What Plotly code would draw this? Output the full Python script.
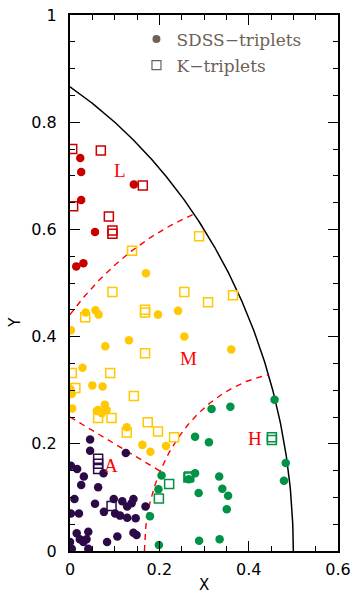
import numpy as np
import plotly.graph_objects as go

# ---------------- data ----------------
# L region (red)
L_sdss_x = [0.023, 0.025, 0.143, 0.025, 0.056, 0.014, 0.030]
L_sdss_y = [0.733, 0.707, 0.684, 0.655, 0.595, 0.531, 0.537]
L_k_x = [0.005, 0.069, 0.163, 0.087, 0.095, 0.095, 0.007]
L_k_y = [0.750, 0.747, 0.682, 0.624, 0.598, 0.592, 0.643]

# M region (yellow)
M_sdss_x = [0.170, 0.197, 0.035, 0.057, 0.064, 0.002, 0.132, 0.079, 0.028, 0.050,
            0.073, 0.001, 0.004, 0.005, 0.063, 0.078, 0.071, 0.082, 0.060, 0.127,
            0.162, 0.180, 0.215, 0.242, 0.256, 0.361]
M_sdss_y = [0.518, 0.441, 0.445, 0.449, 0.441, 0.412, 0.393, 0.382, 0.342, 0.309,
            0.307, 0.302, 0.293, 0.266, 0.263, 0.273, 0.257, 0.263, 0.261, 0.231,
            0.198, 0.185, 0.196, 0.448, 0.400, 0.376]
M_k_x = [0.139, 0.095, 0.168, 0.168, 0.034, 0.168, 0.090, 0.004, 0.012, 0.143,
         0.063, 0.093, 0.127, 0.174, 0.197, 0.233, 0.256, 0.365, 0.309, 0.289]
M_k_y = [0.560, 0.483, 0.450, 0.445, 0.436, 0.369, 0.332, 0.332, 0.304, 0.289,
         0.248, 0.248, 0.221, 0.240, 0.223, 0.212, 0.483, 0.477, 0.464, 0.587]

# A region (dark purple)
A_sdss_x = [0.045, 0.045, 0.125, 0.002, 0.016, 0.031, 0.075, 0.025, 0.063, 0.010,
            0.056, 0.098, 0.117, 0.142, 0.138, 0.128, 0.169, 0.002, 0.020, 0.076,
            0.101, 0.112, 0.128, 0.147, 0.015, 0.022, 0.041, 0.037, 0.030, 0.000,
            0.004, 0.041, 0.083, 0.106, 0.142, 0.149]
A_sdss_y = [0.208, 0.187, 0.183, 0.159, 0.153, 0.139, 0.145, 0.123, 0.119, 0.097,
            0.088, 0.097, 0.093, 0.097, 0.089, 0.083, 0.083, 0.070, 0.070, 0.073,
            0.070, 0.066, 0.062, 0.061, 0.033, 0.022, 0.036, 0.022, 0.017, 0.017,
            0.004, 0.004, 0.017, 0.027, 0.034, 0.030]
A_k_x = [0.063, 0.063, 0.063, 0.093]
A_k_y = [0.172, 0.163, 0.153, 0.084]

# H region (green)
H_sdss_x = [0.458, 0.359, 0.317, 0.280, 0.311, 0.483, 0.479, 0.280, 0.266, 0.334,
            0.341, 0.354, 0.351, 0.288, 0.205, 0.198, 0.179, 0.199, 0.289, 0.335]
H_sdss_y = [0.282, 0.269, 0.265, 0.213, 0.203, 0.164, 0.131, 0.145, 0.134, 0.139,
            0.116, 0.103, 0.078, 0.108, 0.141, 0.115, 0.065, 0.011, 0.019, 0.022]
H_k_x = [0.452, 0.452, 0.267, 0.265, 0.222, 0.199]
H_k_y = [0.212, 0.207, 0.139, 0.137, 0.125, 0.098]

# region labels
region_names = ["L", "M", "A", "H"]
region_lab_x = [0.113, 0.266, 0.092, 0.415]
region_lab_y = [0.709, 0.360, 0.159, 0.210]

# axis ticks
x_tick_vals = [0, 0.2, 0.4, 0.6]
x_tick_text = ["0", "0.2", "0.4", "0.6"]
y_tick_vals = [0, 0.2, 0.4, 0.6, 0.8, 1.0]
y_tick_text = ["0", "0.2", "0.4", "0.6", "0.8", "1"]

# boundary geometry (Agekian-Anosova map)
outer_center, outer_radius = (-0.5, 0.0), 1.0
L_center, L_radius = (0.5, 0.0), 2.0 / 3.0
H_center, H_radius = (0.5, 0.0), 1.0 / 3.0
A_line_intercept, A_line_slope = 0.25, -0.5

COL_L = "#c80000"
COL_M = "#ffc800"
COL_A = "#2b0a47"
COL_H = "#009245"
COL_LEG = "#6e6158"

fig = go.Figure()

# ---------------- boundary curves ----------------
xo = np.linspace(0, 0.5, 400)
yo = np.sqrt(np.clip(outer_radius**2 - (xo - outer_center[0])**2, 0, None))
fig.add_trace(go.Scatter(x=xo, y=yo, mode="lines", line=dict(color="black", width=1.5),
                         showlegend=False, hoverinfo="skip"))

xL_end = (outer_radius**2 - L_radius**2) / 2.0
xl = np.linspace(0, xL_end, 200)
yl = np.sqrt(L_radius**2 - (xl - L_center[0])**2)
fig.add_trace(go.Scatter(x=xl, y=yl, mode="lines",
                         line=dict(color="#ff0000", width=1.4, dash="6px,5px"),
                         showlegend=False, hoverinfo="skip"))

xH_start = H_center[0] - H_radius
xH_end = (outer_radius**2 - H_radius**2) / 2.0
xh = np.linspace(xH_start, xH_end, 300)
yh = np.sqrt(np.clip(H_radius**2 - (xh - H_center[0])**2, 0, None))
fig.add_trace(go.Scatter(x=xh, y=yh, mode="lines",
                         line=dict(color="#ff0000", width=1.4, dash="6px,5px"),
                         showlegend=False, hoverinfo="skip"))

a = 1 + A_line_slope**2
b = -2 * H_center[0] + 2 * A_line_slope * A_line_intercept
c = H_center[0]**2 + A_line_intercept**2 - H_radius**2
xA_end = (-b - np.sqrt(b * b - 4 * a * c)) / (2 * a)
xa = np.linspace(0, xA_end, 50)
ya = A_line_intercept + A_line_slope * xa
fig.add_trace(go.Scatter(x=xa, y=ya, mode="lines",
                         line=dict(color="#ff0000", width=1.4, dash="6px,5px"),
                         showlegend=False, hoverinfo="skip"))

# ---------------- points ----------------
def add_pts(xs, ys, col, kind):
    if kind == "sdss":
        fig.add_trace(go.Scatter(x=xs, y=ys, mode="markers", showlegend=False,
                                 marker=dict(symbol="circle", size=8.5, color=col,
                                             line=dict(width=0))))
    else:
        fig.add_trace(go.Scatter(x=xs, y=ys, mode="markers", showlegend=False,
                                 marker=dict(symbol="square-open", size=9, color=col,
                                             line=dict(width=1.5, color=col))))

add_pts(L_sdss_x, L_sdss_y, COL_L, "sdss")
add_pts(L_k_x, L_k_y, COL_L, "k")
add_pts(M_sdss_x, M_sdss_y, COL_M, "sdss")
add_pts(M_k_x, M_k_y, COL_M, "k")
add_pts(A_sdss_x, A_sdss_y, COL_A, "sdss")
add_pts(A_k_x, A_k_y, COL_A, "k")
add_pts(H_sdss_x, H_sdss_y, COL_H, "sdss")
add_pts(H_k_x, H_k_y, COL_H, "k")

# legend entries
fig.add_trace(go.Scatter(x=[None], y=[None], mode="markers", name="SDSS\u2212triplets",
                         legendgroup="g1",
                         marker=dict(symbol="circle", size=8, color=COL_LEG)))
fig.add_trace(go.Scatter(x=[None], y=[None], mode="markers", name="K\u2212triplets",
                         legendgroup="g2",
                         marker=dict(symbol="square-open", size=9, color=COL_LEG,
                                     line=dict(width=1.2, color=COL_LEG))))

# region labels
for nm, lx, ly in zip(region_names, region_lab_x, region_lab_y):
    fig.add_annotation(x=lx, y=ly, text=nm, showarrow=False,
                       xanchor="center", yanchor="middle",
                       font=dict(family="Liberation Serif", size=19, color="#ff0000"))

# axis titles (placed as in reference)
fig.add_annotation(xref="paper", yref="paper", x=-0.205, y=0.426, text="Y",
                   textangle=-90, showarrow=False, xanchor="center", yanchor="middle",
                   font=dict(family="DejaVu Sans", size=15, color="black"))
fig.add_annotation(xref="paper", yref="paper", x=0.5, y=-0.0625, text="X",
                   showarrow=False, xanchor="center", yanchor="middle",
                   font=dict(family="DejaVu Sans", size=15, color="black"))

axis_common = dict(showline=True, linewidth=2, linecolor="black", mirror="ticks",
                   ticks="inside", ticklen=10, tickwidth=1.3, tickcolor="black",
                   showgrid=False, zeroline=False, automargin=False,
                   tickfont=dict(family="DejaVu Sans", size=16, color="black"),
                   minor=dict(ticks="inside", ticklen=5, tickwidth=1.3,
                              tickcolor="black", dtick=0.05, showgrid=False))

fig.update_xaxes(range=[0, 0.6], tickvals=x_tick_vals, ticktext=x_tick_text,
                 ticklabelstandoff=3, **axis_common)
fig.update_yaxes(range=[0, 1], tickvals=y_tick_vals, ticktext=y_tick_text,
                 ticklabelstandoff=8, **axis_common)

fig.update_layout(
    width=353, height=595,
    margin=dict(l=70, r=15, t=15, b=44),
    plot_bgcolor="white", paper_bgcolor="white",
    showlegend=True,
    legend=dict(x=0.248, y=0.988, xanchor="left", yanchor="top",
                bgcolor="rgba(0,0,0,0)", borderwidth=0, itemwidth=30,
                tracegroupgap=1,
                font=dict(family="DejaVu Serif", size=17, color=COL_LEG)),
)

fig.write_html("out.html")
